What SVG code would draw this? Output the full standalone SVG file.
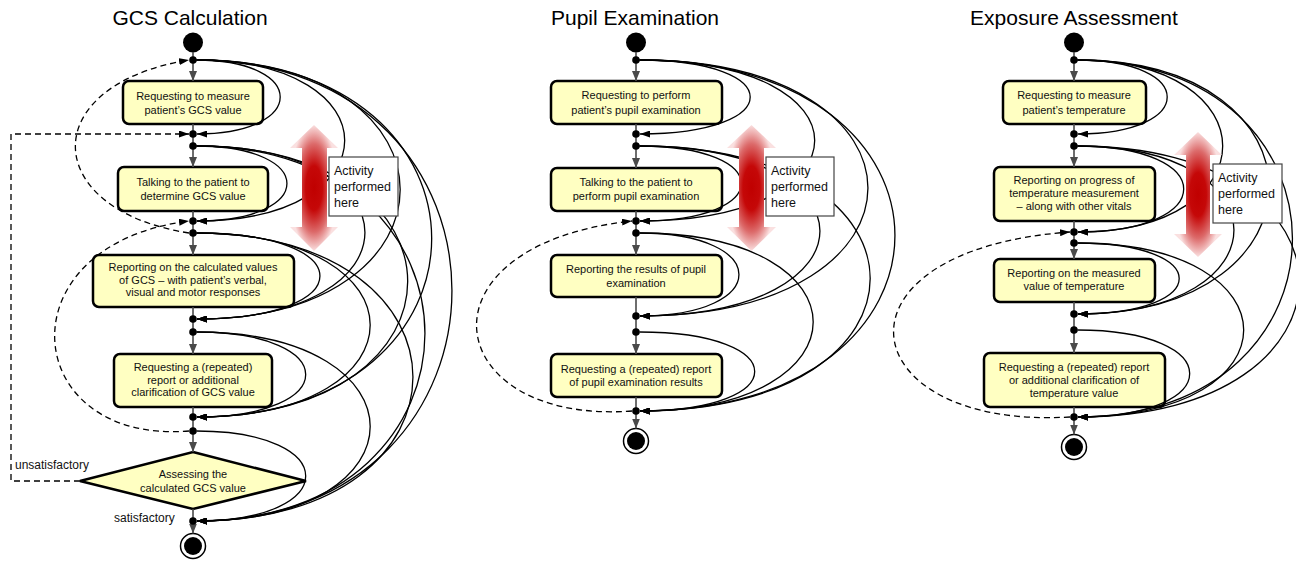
<svg xmlns="http://www.w3.org/2000/svg" width="1296" height="561" viewBox="0 0 1296 561">
<style>
text{font-family:"Liberation Sans",Arial,sans-serif;fill:#111}
.title{font-size:21px;text-anchor:middle;fill:#000}
.lbl{font-size:11px;text-anchor:middle}
.side{font-size:12px}
.note{font-size:12.5px}
.act{fill:#FFFFC2;stroke:#000;stroke-width:2.5}
.flow{fill:none;stroke:#4a4a4a;stroke-width:1.6}
.fa{fill:none;stroke:#4a4a4a;stroke-width:1.6;marker-end:url(#ag)}
.cv{fill:none;stroke:#000;stroke-width:1.3;marker-end:url(#ah)}
.dash{fill:none;stroke:#000;stroke-width:1.3;stroke-dasharray:6 4;marker-end:url(#ah)}
.dot{fill:#000}
.box{fill:#fff;stroke:#444;stroke-width:1.2}
.red{fill:url(#rg)}
</style>
<defs>
<marker id="ah" viewBox="0 0 10 7" refX="10" refY="3.5" markerWidth="10" markerHeight="7" markerUnits="userSpaceOnUse" orient="auto"><path d="M0,0 L10,3.5 L0,7 z" fill="#000"/></marker>
<marker id="ag" viewBox="0 0 10 8" refX="10" refY="4" markerWidth="10" markerHeight="8" markerUnits="userSpaceOnUse" orient="auto"><path d="M0,0 L10,4 L0,8 z" fill="#4a4a4a"/></marker>
<radialGradient id="rg" cx="0.5" cy="0.5" r="0.5">
<stop offset="0" stop-color="#C00000"/>
<stop offset="0.35" stop-color="#C50808"/>
<stop offset="0.7" stop-color="#DC6A6A"/>
<stop offset="1" stop-color="#FAE0E0"/>
</radialGradient>
</defs>

<!-- Titles -->
<text class="title" x="190" y="25">GCS Calculation</text>
<text class="title" x="635" y="25">Pupil Examination</text>
<text class="title" x="1074" y="25">Exposure Assessment</text>

<!-- ===== GCS nodes ===== -->
<g id="gcs-start"><circle cx="193" cy="42.5" r="10" fill="#000"/></g>
<g id="gcs-a1"><rect class="act" x="123" y="81" width="140" height="43" rx="6"/>
<text class="lbl" x="193" y="99.5">Requesting to measure</text>
<text class="lbl" x="193" y="113.5">patient’s GCS value</text></g>
<g id="gcs-a2"><rect class="act" x="118" y="167" width="150" height="44" rx="6"/>
<text class="lbl" x="193" y="186">Talking to the patient to</text>
<text class="lbl" x="193" y="199.5">determine GCS value</text></g>
<g id="gcs-a3"><rect class="act" x="93" y="255" width="201" height="52" rx="6"/>
<text class="lbl" x="193" y="271">Reporting on the calculated values</text>
<text class="lbl" x="193" y="283.5">of GCS – with patient’s verbal,</text>
<text class="lbl" x="193" y="296">visual and motor responses</text></g>
<g id="gcs-a4"><rect class="act" x="114" y="354" width="158" height="53" rx="6"/>
<text class="lbl" x="193" y="371">Requesting a (repeated)</text>
<text class="lbl" x="193" y="383.5">report or additional</text>
<text class="lbl" x="193" y="396">clarification of GCS value</text></g>
<g id="gcs-decision"><polygon class="act" points="193,452 306,481 193,509 80,481"/>
<text class="lbl" x="193" y="478">Assessing the</text>
<text class="lbl" x="193" y="492">calculated GCS value</text></g>
<g id="gcs-end"><circle cx="193" cy="546" r="12.5" fill="#fff" stroke="#000" stroke-width="1.5"/><circle cx="193" cy="546" r="9" fill="#000"/></g>

<!-- ===== Pupil nodes ===== -->
<g id="pup-start"><circle cx="636" cy="42.5" r="10" fill="#000"/></g>
<g id="pup-a1"><rect class="act" x="551" y="81" width="171" height="43" rx="6"/>
<text class="lbl" x="636" y="99">Requesting to perform</text>
<text class="lbl" x="636" y="113.5">patient’s pupil examination</text></g>
<g id="pup-a2"><rect class="act" x="551" y="168" width="171" height="43" rx="6"/>
<text class="lbl" x="636" y="186">Talking to the patient to</text>
<text class="lbl" x="636" y="199.5">perform pupil examination</text></g>
<g id="pup-a3"><rect class="act" x="551" y="255" width="171" height="42" rx="6"/>
<text class="lbl" x="636" y="273">Reporting the results of pupil</text>
<text class="lbl" x="636" y="287">examination</text></g>
<g id="pup-a4"><rect class="act" x="551" y="354" width="171" height="43" rx="6"/>
<text class="lbl" x="636" y="373">Requesting a (repeated) report</text>
<text class="lbl" x="636" y="386">of pupil examination results</text></g>
<g id="pup-end"><circle cx="636" cy="441" r="12.5" fill="#fff" stroke="#000" stroke-width="1.5"/><circle cx="636" cy="441" r="9" fill="#000"/></g>

<!-- ===== Exposure nodes ===== -->
<g id="exp-start"><circle cx="1074" cy="42.5" r="10" fill="#000"/></g>
<g id="exp-a1"><rect class="act" x="1003" y="81" width="143" height="43" rx="6"/>
<text class="lbl" x="1074" y="99">Requesting to measure</text>
<text class="lbl" x="1074" y="113.5">patient’s temperature</text></g>
<g id="exp-a2"><rect class="act" x="994" y="167" width="161" height="54" rx="6"/>
<text class="lbl" x="1074" y="183.5">Reporting on progress of</text>
<text class="lbl" x="1074" y="197">temperature measurement</text>
<text class="lbl" x="1074" y="209.5">– along with other vitals</text></g>
<g id="exp-a3"><rect class="act" x="994" y="259" width="161" height="43" rx="6"/>
<text class="lbl" x="1074" y="277">Reporting on the measured</text>
<text class="lbl" x="1074" y="290">value of temperature</text></g>
<g id="exp-a4"><rect class="act" x="984" y="353" width="181" height="54" rx="6"/>
<text class="lbl" x="1074" y="371">Requesting a (repeated) report</text>
<text class="lbl" x="1074" y="383.5">or additional clarification of</text>
<text class="lbl" x="1074" y="397">temperature value</text></g>
<g id="exp-end"><circle cx="1074" cy="447" r="12.5" fill="#fff" stroke="#000" stroke-width="1.5"/><circle cx="1074" cy="447" r="9" fill="#000"/></g>

<!-- ===== Connectors ===== -->
<g id="connectors">
<!-- GCS flow -->
<path class="flow" d="M193,52 V60"/>
<path class="fa" d="M193,60 V81"/>
<path class="flow" d="M193,124 V146"/>
<path class="fa" d="M193,146 V167"/>
<path class="flow" d="M193,211 V233"/>
<path class="fa" d="M193,233 V255"/>
<path class="flow" d="M193,307 V332"/>
<path class="fa" d="M193,332 V354"/>
<path class="flow" d="M193,407 V431"/>
<path class="fa" d="M193,431 V452"/>
<path class="flow" d="M193,509 V521"/>
<path class="fa" d="M193,521 V533.5"/>
<!-- GCS skip curves -->
<path class="cv" d="M196.5,60 C308,60 308,134 197,134"/>
<path class="cv" d="M196.5,146 C317,146 317,221 197,221"/>
<path class="cv" d="M196.5,233 C361,233 361,319 197,319"/>
<path class="cv" d="M196.5,332 C342,332 342,417 197,417"/>
<path class="cv" d="M196.5,431 C342,431 342,521 197,521"/>
<path class="cv" d="M196.5,60 C394,60 394,221 197,221"/>
<path class="cv" d="M196.5,146 C421,146 421,319 197,319"/>
<path class="cv" d="M196.5,233 C428,233 428,417 197,417"/>
<path class="cv" d="M196.5,332 C428,332 428,521 197,521"/>
<path class="cv" d="M196.5,60 C468,60 468,319 197,319"/>
<path class="cv" d="M196.5,146 C478,146 478,417 197,417"/>
<path class="cv" d="M196.5,233 C485,233 485,521 197,521"/>
<path class="cv" d="M196.5,60 C510,60 510,417 197,417"/>
<path class="cv" d="M196.5,146 C501,146 501,521 197,521"/>
<path class="cv" d="M196.5,60 C537,60 537,521 197,521"/>
<!-- GCS dashed -->
<path class="dash" d="M189,233 C40,210 35,85 189,60"/>
<path class="dash" d="M189,431 C20,445 0,245 189,221"/>
<path class="dash" d="M80,481 H11 V134 H189"/>

<!-- Pupil flow -->
<path class="flow" d="M636,52 V60"/>
<path class="fa" d="M636,60 V81"/>
<path class="flow" d="M636,124 V146"/>
<path class="fa" d="M636,146 V168"/>
<path class="flow" d="M636,211 V233"/>
<path class="fa" d="M636,233 V255"/>
<path class="flow" d="M636,297 V332"/>
<path class="fa" d="M636,332 V354"/>
<path class="flow" d="M636,397 V411"/>
<path class="fa" d="M636,411 V428.5"/>
<!-- Pupil skip curves -->
<path class="cv" d="M639.5,60 C787,60 787,134 640,134"/>
<path class="cv" d="M639.5,146 C775,146 775,221 640,221"/>
<path class="cv" d="M639.5,233 C772,233 772,316 640,316"/>
<path class="cv" d="M639.5,332 C793,332 793,411 640,411"/>
<path class="cv" d="M639.5,60 C873,60 873,221 640,221"/>
<path class="cv" d="M639.5,146 C880,146 880,316 640,316"/>
<path class="cv" d="M639.5,233 C871,233 871,411 640,411"/>
<path class="cv" d="M639.5,60 C944,60 944,316 640,316"/>
<path class="cv" d="M639.5,146 C947,146 947,411 640,411"/>
<path class="cv" d="M639.5,60 C980,60 980,411 640,411"/>
<path class="dash" d="M632,411 C440,425 410,245 632,221"/>

<!-- Exposure flow -->
<path class="flow" d="M1074,52 V60"/>
<path class="fa" d="M1074,60 V81"/>
<path class="flow" d="M1074,124 V146"/>
<path class="fa" d="M1074,146 V167"/>
<path class="flow" d="M1074,221 V243"/>
<path class="fa" d="M1074,243 V259"/>
<path class="flow" d="M1074,302 V330"/>
<path class="fa" d="M1074,330 V353"/>
<path class="flow" d="M1074,407 V417"/>
<path class="fa" d="M1074,417 V434.5"/>
<!-- Exposure skip curves -->
<path class="cv" d="M1077.5,60 C1197,60 1197,134 1078,134"/>
<path class="cv" d="M1077.5,146 C1219,146 1219,232 1078,232"/>
<path class="cv" d="M1077.5,243 C1213,243 1213,314 1078,314"/>
<path class="cv" d="M1077.5,330 C1227,330 1227,417 1078,417"/>
<path class="cv" d="M1077.5,60 C1271,60 1271,232 1078,232"/>
<path class="cv" d="M1077.5,146 C1286,146 1286,314 1078,314"/>
<path class="cv" d="M1077.5,243 C1299,243 1299,417 1078,417"/>
<path class="cv" d="M1077.5,60 C1333,60 1333,314 1078,314"/>
<path class="cv" d="M1077.5,146 C1373,146 1373,417 1078,417"/>
<path class="cv" d="M1077.5,60 C1364,60 1364,417 1078,417"/>
<path class="dash" d="M1070,417 C850,430 820,250 1070,232"/>
</g>

<!-- ===== Fork / merge dots ===== -->
<g id="gcs-dots">
<circle class="dot" cx="193" cy="60" r="3.8"/><circle class="dot" cx="193" cy="134" r="3.8"/><circle class="dot" cx="193" cy="146" r="3.8"/>
<circle class="dot" cx="193" cy="221" r="3.8"/><circle class="dot" cx="193" cy="233" r="3.8"/><circle class="dot" cx="193" cy="319" r="3.8"/>
<circle class="dot" cx="193" cy="332" r="3.8"/><circle class="dot" cx="193" cy="417" r="3.8"/><circle class="dot" cx="193" cy="431" r="3.8"/>
<circle class="dot" cx="193" cy="521" r="3.8"/>
</g>
<g id="pup-dots">
<circle class="dot" cx="636" cy="60" r="3.8"/><circle class="dot" cx="636" cy="134" r="3.8"/><circle class="dot" cx="636" cy="146" r="3.8"/>
<circle class="dot" cx="636" cy="221" r="3.8"/><circle class="dot" cx="636" cy="233" r="3.8"/><circle class="dot" cx="636" cy="316" r="3.8"/>
<circle class="dot" cx="636" cy="332" r="3.8"/><circle class="dot" cx="636" cy="411" r="3.8"/>
</g>
<g id="exp-dots">
<circle class="dot" cx="1074" cy="60" r="3.8"/><circle class="dot" cx="1074" cy="134" r="3.8"/><circle class="dot" cx="1074" cy="146" r="3.8"/>
<circle class="dot" cx="1074" cy="232" r="3.8"/><circle class="dot" cx="1074" cy="243" r="3.8"/><circle class="dot" cx="1074" cy="314" r="3.8"/>
<circle class="dot" cx="1074" cy="330" r="3.8"/><circle class="dot" cx="1074" cy="417" r="3.8"/>
</g>

<!-- guard labels -->
<text class="side" x="15" y="469">unsatisfactory</text>
<text class="side" x="114" y="522">satisfactory</text>

<!-- ===== Activity indicators ===== -->
<g id="gcs-indicator">
<polygon class="red" points="314,125 338,148 327,148 327,227 338,227 314,251 290,227 302,227 302,148 290,148"/>
<rect class="box" x="329" y="157" width="69" height="59"/>
<text class="note" x="334" y="175">Activity</text>
<text class="note" x="334" y="191">performed</text>
<text class="note" x="334" y="207">here</text>
</g>
<g id="pup-indicator">
<polygon class="red" points="751.5,125 776,148 764,148 764,227 776,227 751.5,251 727,227 739,227 739,148 727,148"/>
<rect class="box" x="766" y="157" width="68" height="59"/>
<text class="note" x="771" y="175">Activity</text>
<text class="note" x="771" y="191">performed</text>
<text class="note" x="771" y="207">here</text>
</g>
<g id="exp-indicator">
<polygon class="red" points="1198,132 1222,155 1210,155 1210,234 1222,234 1198,257 1174,234 1186,234 1186,155 1174,155"/>
<rect class="box" x="1213" y="164" width="69" height="59"/>
<text class="note" x="1218" y="182">Activity</text>
<text class="note" x="1218" y="198">performed</text>
<text class="note" x="1218" y="214">here</text>
</g>
</svg>
